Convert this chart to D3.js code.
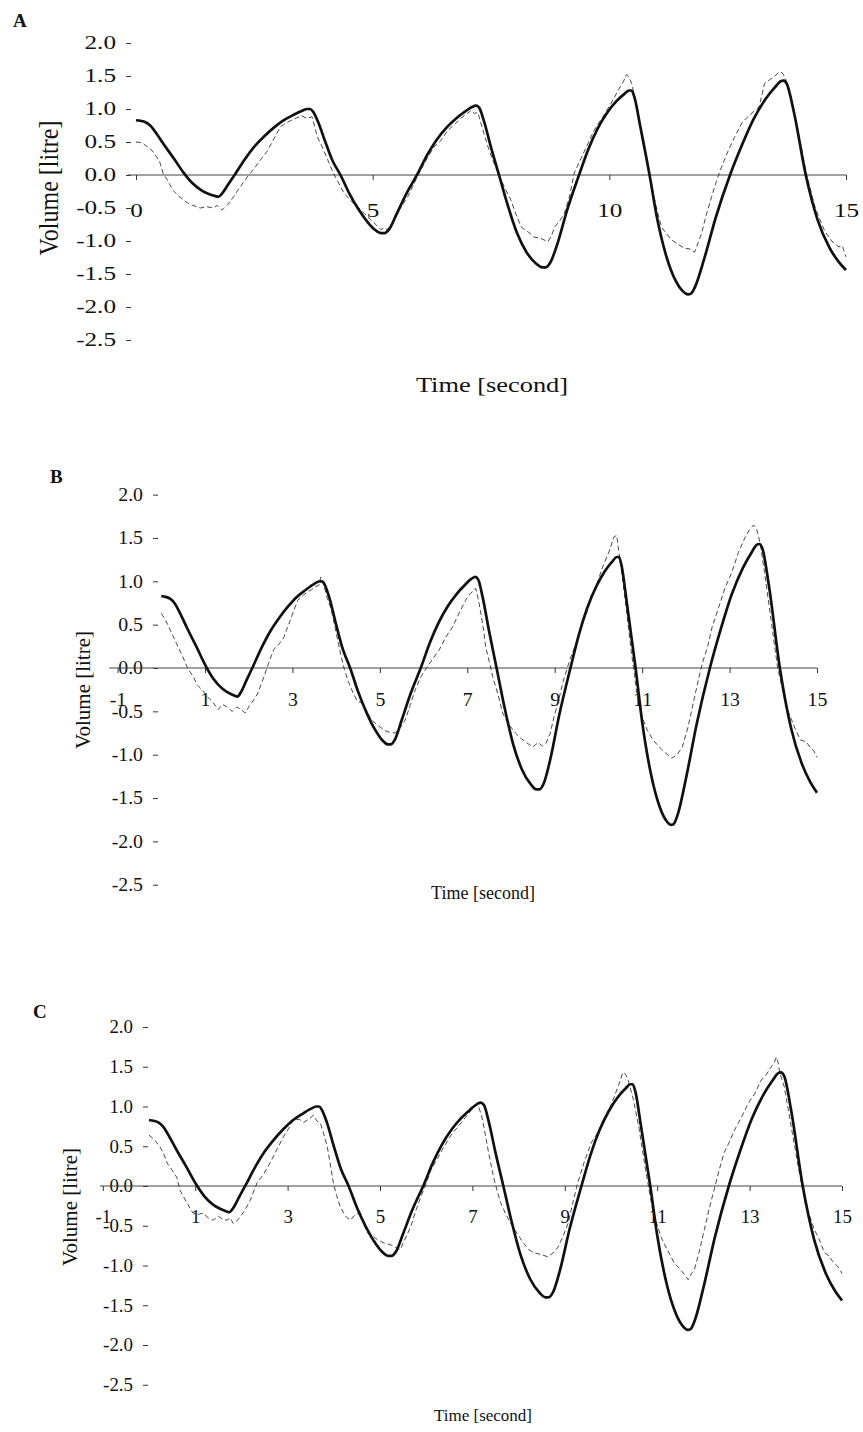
<!DOCTYPE html>
<html lang="en">
<head>
<meta charset="UTF-8" />
<title>Volume vs time</title>
<script src="https://cdn.jsdelivr.net/npm/d3@7"></script>
<style>
  body { margin: 0; background: #fff; }
  svg text { font-family: "Liberation Serif", "DejaVu Serif", serif; fill: #111; }
</style>
</head>
<body>
<div id="chart"></div>
<script>
// ---- data ----
const volumeTicks = [2.0, 1.5, 1.0, 0.5, 0.0, -0.5, -1.0, -1.5, -2.0, -2.5];
const timeTicksA = [0, 5, 10, 15];
const timeTicksBC = [-1, 1, 3, 5, 7, 9, 11, 13, 15];

// model (thick solid line), identical in all three panels
const modelTime = [0.00, 0.10, 0.20, 0.30, 0.45, 0.60, 0.80, 1.00, 1.20, 1.40, 1.55, 1.68, 1.74, 1.82, 1.95,
  2.10, 2.30, 2.50, 2.70, 2.90, 3.10, 3.30, 3.50, 3.62, 3.68, 3.74, 3.85, 4.00, 4.15, 4.32, 4.50, 4.70,
  4.90, 5.05, 5.18, 5.25, 5.35, 5.50, 5.70, 5.95, 6.15, 6.35, 6.55, 6.75, 6.95, 7.10, 7.18, 7.25, 7.35,
  7.50, 7.67, 7.85, 8.05, 8.25, 8.45, 8.58, 8.65, 8.75, 8.90, 9.10, 9.36, 9.55, 9.75, 9.95, 10.15, 10.32,
  10.42, 10.47, 10.53, 10.65, 10.85, 11.00, 11.20, 11.40, 11.55, 11.66, 11.72, 11.82, 12.00, 12.25, 12.55,
  12.80, 13.05, 13.30, 13.50, 13.62, 13.68, 13.75, 13.90, 14.15, 14.40, 14.65, 14.85, 15.00];
const modelVolume = [0.83, 0.82, 0.80, 0.75, 0.61, 0.45, 0.25, 0.04, -0.13, -0.24, -0.29, -0.32, -0.33, -0.28, -0.14,
  0.02, 0.24, 0.43, 0.58, 0.71, 0.82, 0.90, 0.97, 1.00, 1.00, 0.96, 0.80, 0.50, 0.22, 0.00, -0.27, -0.52,
  -0.72, -0.83, -0.88, -0.88, -0.82, -0.60, -0.30, 0.02, 0.30, 0.53, 0.71, 0.85, 0.96, 1.03, 1.05, 1.02, 0.82,
  0.42, 0.00, -0.45, -0.88, -1.17, -1.34, -1.40, -1.40, -1.33, -1.05, -0.55, 0.00, 0.38, 0.70, 0.94, 1.12, 1.23,
  1.28, 1.28, 1.18, 0.75, 0.00, -0.62, -1.22, -1.60, -1.76, -1.81, -1.80, -1.68, -1.28, -0.64, 0.00,
  0.45, 0.85, 1.15, 1.33, 1.42, 1.43, 1.38, 0.95, 0.00, -0.68, -1.10, -1.32, -1.44];

// measured (thin dashed line), [time, volume]
const measuredA = [[0.0,0.50],[0.12,0.49],[0.22,0.44],[0.3,0.40],[0.38,0.33],[0.44,0.27],[0.5,0.20],[0.57,0.03],
  [0.68,-0.10],[0.78,-0.23],[0.9,-0.32],[1.08,-0.42],[1.2,-0.46],[1.36,-0.50],[1.5,-0.48],[1.63,-0.50],[1.72,-0.46],
  [1.82,-0.53],[1.94,-0.45],[2.06,-0.33],[2.2,-0.18],[2.35,-0.03],[2.5,0.10],[2.63,0.23],[2.77,0.36],[2.9,0.53],
  [3.05,0.73],[3.2,0.80],[3.35,0.85],[3.5,0.90],[3.6,0.86],[3.72,0.88],[3.83,0.58],[3.95,0.40],[4.05,0.23],
  [4.17,0.03],[4.28,-0.12],[4.39,-0.27],[4.55,-0.40],[4.68,-0.48],[4.82,-0.58],[4.96,-0.68],[5.08,-0.76],
  [5.17,-0.83],[5.24,-0.80],[5.31,-0.83],[5.42,-0.72],[5.52,-0.58],[5.63,-0.45],[5.74,-0.33],[5.88,-0.12],
  [6.02,0.08],[6.15,0.25],[6.29,0.42],[6.44,0.52],[6.59,0.68],[6.72,0.76],[6.86,0.86],[6.98,0.92],[7.08,0.98],
  [7.15,0.93],[7.22,0.95],[7.33,0.68],[7.44,0.42],[7.55,0.20],[7.65,0.03],[7.78,-0.18],[7.92,-0.38],[8.03,-0.60],
  [8.14,-0.79],[8.28,-0.86],[8.41,-0.94],[8.55,-0.96],[8.7,-1.01],[8.78,-0.92],[8.84,-0.79],[8.95,-0.70],
  [9.05,-0.58],[9.15,-0.35],[9.26,0.03],[9.4,0.25],[9.55,0.48],[9.68,0.68],[9.86,0.88],[10.04,1.09],[10.2,1.30],
  [10.3,1.42],[10.36,1.52],[10.42,1.48],[10.47,1.39],[10.58,1.05],[10.7,0.55],[10.85,0.0],[10.98,-0.45],
  [11.1,-0.79],[11.2,-0.88],[11.31,-0.98],[11.45,-1.05],[11.59,-1.11],[11.7,-1.12],[11.8,-1.17],[11.88,-1.02],
  [11.95,-0.88],[12.05,-0.60],[12.16,-0.33],[12.26,-0.10],[12.37,0.12],[12.5,0.35],[12.65,0.58],[12.8,0.79],
  [12.98,0.92],[13.16,1.03],[13.22,1.20],[13.28,1.39],[13.4,1.45],[13.5,1.50],[13.58,1.56],[13.65,1.55],
  [13.71,1.48],[13.8,1.30],[13.92,0.90],[14.05,0.45],[14.17,0.0],[14.35,-0.5],[14.55,-0.85],[14.7,-1.0],
  [14.78,-1.05],[14.85,-1.09],[14.92,-1.07],[15.0,-1.24]];

const measuredB = [[0.0,0.63],[0.1,0.55],[0.24,0.40],[0.35,0.28],[0.49,0.13],[0.6,0.0],[0.73,-0.10],[0.83,-0.20],
  [0.93,-0.25],[1.05,-0.33],[1.19,-0.40],[1.3,-0.48],[1.4,-0.42],[1.5,-0.45],[1.62,-0.50],[1.73,-0.45],[1.83,-0.48],
  [1.92,-0.52],[2.0,-0.45],[2.11,-0.37],[2.2,-0.30],[2.35,-0.10],[2.45,0.05],[2.57,0.21],[2.7,0.28],[2.8,0.35],
  [2.89,0.47],[3.0,0.62],[3.12,0.78],[3.25,0.84],[3.35,0.88],[3.43,0.90],[3.52,0.94],[3.6,0.95],[3.65,1.05],
  [3.72,0.95],[3.8,0.80],[3.89,0.67],[3.97,0.48],[4.05,0.29],[4.12,0.12],[4.19,-0.02],[4.28,-0.16],[4.39,-0.29],
  [4.48,-0.38],[4.58,-0.40],[4.7,-0.50],[4.81,-0.60],[4.95,-0.66],[5.11,-0.72],[5.22,-0.74],[5.35,-0.75],
  [5.45,-0.70],[5.58,-0.60],[5.7,-0.42],[5.81,-0.25],[5.92,-0.12],[6.04,-0.02],[6.2,0.10],[6.36,0.21],[6.5,0.35],
  [6.66,0.47],[6.8,0.62],[6.96,0.78],[7.05,0.85],[7.12,0.88],[7.19,0.92],[7.25,0.80],[7.31,0.63],[7.37,0.45],
  [7.42,0.24],[7.5,0.08],[7.58,-0.10],[7.7,-0.30],[7.81,-0.52],[7.95,-0.65],[8.1,-0.75],[8.2,-0.80],[8.35,-0.86],
  [8.5,-0.91],[8.62,-0.86],[8.72,-0.90],[8.8,-0.87],[8.9,-0.75],[8.98,-0.57],[9.1,-0.35],[9.2,-0.14],[9.35,0.10],
  [9.5,0.30],[9.6,0.47],[9.72,0.62],[9.82,0.82],[9.95,0.95],[10.1,1.17],[10.25,1.35],[10.35,1.51],[10.42,1.53],
  [10.45,1.40],[10.52,1.15],[10.62,0.75],[10.75,0.20],[10.88,-0.30],[11.0,-0.57],[11.12,-0.72],[11.25,-0.83],
  [11.37,-0.90],[11.47,-0.95],[11.58,-1.00],[11.68,-1.04],[11.8,-1.00],[11.92,-0.91],[12.05,-0.68],[12.15,-0.45],
  [12.28,-0.15],[12.38,0.06],[12.5,0.25],[12.6,0.47],[12.75,0.70],[12.9,0.93],[13.05,1.10],[13.2,1.33],
  [13.35,1.50],[13.45,1.59],[13.55,1.65],[13.62,1.60],[13.7,1.44],[13.8,1.10],[13.95,0.55],[14.1,0.0],
  [14.3,-0.45],[14.5,-0.70],[14.62,-0.83],[14.75,-0.85],[14.85,-0.92],[14.92,-0.95],[15.0,-1.03]];

const measuredC = [[0.0,0.64],[0.12,0.58],[0.24,0.49],[0.32,0.40],[0.39,0.29],[0.5,0.20],[0.6,0.11],[0.67,-0.05],
  [0.75,-0.14],[0.82,-0.21],[0.95,-0.34],[1.05,-0.36],[1.17,-0.34],[1.28,-0.40],[1.39,-0.43],[1.5,-0.38],
  [1.6,-0.42],[1.69,-0.43],[1.76,-0.40],[1.82,-0.47],[1.9,-0.44],[1.97,-0.39],[2.08,-0.30],[2.19,-0.18],
  [2.34,0.04],[2.48,0.15],[2.62,0.29],[2.76,0.45],[2.91,0.62],[3.02,0.72],[3.12,0.83],[3.25,0.84],[3.35,0.80],
  [3.43,0.83],[3.5,0.86],[3.56,0.89],[3.63,0.82],[3.71,0.79],[3.8,0.62],[3.86,0.49],[3.93,0.25],[3.99,0.04],
  [4.06,-0.12],[4.14,-0.26],[4.25,-0.38],[4.36,-0.43],[4.46,-0.36],[4.58,-0.34],[4.66,-0.50],[4.73,-0.59],
  [4.85,-0.63],[4.95,-0.68],[5.1,-0.72],[5.23,-0.74],[5.33,-0.77],[5.44,-0.80],[5.5,-0.72],[5.58,-0.62],
  [5.66,-0.52],[5.77,-0.32],[5.88,-0.14],[6.0,0.03],[6.1,0.20],[6.25,0.35],[6.38,0.49],[6.55,0.65],[6.75,0.79],
  [6.9,0.90],[7.03,0.99],[7.1,1.03],[7.14,0.99],[7.2,0.88],[7.25,0.74],[7.35,0.42],[7.46,0.11],[7.53,-0.05],
  [7.61,-0.21],[7.72,-0.35],[7.83,-0.47],[7.97,-0.60],[8.11,-0.72],[8.22,-0.80],[8.33,-0.84],[8.48,-0.86],
  [8.63,-0.89],[8.75,-0.84],[8.85,-0.77],[8.95,-0.65],[9.07,-0.47],[9.17,-0.22],[9.28,0.04],[9.42,0.30],
  [9.57,0.54],[9.7,0.66],[9.85,0.83],[9.95,0.95],[10.07,1.12],[10.17,1.28],[10.26,1.43],[10.32,1.40],
  [10.37,1.33],[10.48,1.10],[10.6,0.75],[10.75,0.20],[10.9,-0.30],[11.08,-0.64],[11.2,-0.78],[11.37,-0.97],
  [11.5,-1.05],[11.6,-1.12],[11.67,-1.18],[11.74,-1.10],[11.8,-1.06],[11.9,-0.85],[12.02,-0.55],[12.12,-0.30],
  [12.23,-0.05],[12.34,0.20],[12.45,0.42],[12.56,0.55],[12.67,0.70],[12.82,0.86],[12.97,1.04],[13.1,1.15],
  [13.25,1.33],[13.36,1.40],[13.47,1.50],[13.53,1.55],[13.58,1.62],[13.62,1.55],[13.65,1.43],[13.75,1.25],
  [13.9,0.75],[14.05,0.25],[14.2,-0.20],[14.4,-0.55],[14.5,-0.66],[14.62,-0.84],[14.72,-0.88],[14.8,-0.95],
  [14.92,-1.02],[15.0,-1.10]];

const model = d3.zip(modelTime, modelVolume);

// ---- layout of the three panels ----
const panels = [
  { letter: "A", lx: 13, ly: 27, x0: 136, x15: 846, y0: 175, perLitre: 66, axisX: 131, lineFrom: -0.17,
    xTicks: timeTicksA, sx: 1.4, xPad: 24, xl: { x: 492, y: 392, size: 22, sx: 1.2 },
    yl: { x: 58, y: 188, size: 24, s: 1.15 }, measured: measuredA },
  { letter: "B", lx: 50, ly: 483, x0: 161.3, x15: 817, y0: 668, perLitre: 86.7, axisX: 158, lineFrom: -1.19,
    xTicks: timeTicksBC, sx: 1.1, xPad: 20, xl: { x: 483, y: 899, size: 18, sx: 1 },
    yl: { x: 90, y: 690, size: 21, s: 1 }, measured: measuredB },
  { letter: "C", lx: 33, ly: 1018, x0: 149, x15: 842, y0: 1186, perLitre: 79.5, axisX: 148, lineFrom: -1.06,
    xTicks: timeTicksBC, sx: 1.05, xPad: 19, xl: { x: 483, y: 1421, size: 17, sx: 1 },
    yl: { x: 77, y: 1207, size: 21, s: 1 }, measured: measuredC },
];

const svg = d3.select("#chart").append("svg")
  .attr("width", 863).attr("height", 1432)
  .attr("viewBox", [0, 0, 863, 1432]);

panels.forEach(drawPanel);

function drawPanel(p) {
  const x = d3.scaleLinear().domain([0, 15]).range([p.x0, p.x15]);
  const y = d3.scaleLinear().domain([0, 1]).range([p.y0, p.y0 - p.perLitre]);
  const g = svg.append("g");

  // panel letter
  g.append("text").attr("x", p.lx).attr("y", p.ly)
    .style("font-size", "19px").style("font-weight", "bold").text(p.letter);

  // y axis: labels and small dashes only
  const yAxis = d3.axisLeft(y).tickValues(volumeTicks).tickSize(5).tickPadding(10)
    .tickFormat(d => d.toFixed(1));
  g.append("g").attr("transform", `translate(${p.axisX},0)`)
    .call(yAxis)
    .call(a => a.select(".domain").remove())
    .call(a => a.attr("font-size", null).attr("font-family", null).attr("color", "#333"))
    .call(a => a.selectAll(".tick text").attr("x", 0)
      .attr("transform", `translate(-15,0) scale(${p.sx},1)`)
      .style("font-size", "18px"));

  // x axis along volume = 0
  g.append("line")
    .attr("x1", x(p.lineFrom)).attr("x2", x(15))
    .attr("y1", p.y0).attr("y2", p.y0)
    .attr("stroke", "#444").attr("stroke-width", 1.1);

  const xAxis = d3.axisBottom(x).tickValues(p.xTicks).tickSize(5).tickPadding(p.xPad)
    .tickFormat(d => String(d));
  g.append("g").attr("transform", `translate(0,${p.y0})`)
    .call(xAxis)
    .call(a => a.select(".domain").remove())
    .call(a => a.attr("font-size", null).attr("font-family", null).attr("color", "#333"))
    .call(a => a.selectAll(".tick text")
      .attr("transform", `scale(${p.sx},1)`)
      .style("font-size", "18px"));

  // measured (dashed)
  g.append("path").datum(p.measured)
    .attr("fill", "none").attr("stroke", "#333").attr("stroke-width", 0.9)
    .attr("stroke-dasharray", "5,3")
    .attr("d", d3.line().x(d => x(d[0])).y(d => y(d[1])));

  // model (thick solid)
  g.append("path").datum(model)
    .attr("fill", "none").attr("stroke", "#111").attr("stroke-width", 2.7)
    .attr("stroke-linejoin", "round")
    .attr("d", d3.line().x(d => x(d[0])).y(d => y(d[1])).curve(d3.curveMonotoneX));

  // axis titles
  g.append("text")
    .attr("transform", `translate(${p.xl.x},${p.xl.y}) scale(${p.xl.sx},1)`)
    .attr("text-anchor", "middle").style("font-size", p.xl.size + "px")
    .text("Time [second]");

  g.append("text")
    .attr("transform", `translate(${p.yl.x},${p.yl.y}) rotate(-90) scale(1,${p.yl.s})`)
    .attr("text-anchor", "middle").style("font-size", p.yl.size + "px")
    .text("Volume [litre]");
}
</script>
</body>
</html>
